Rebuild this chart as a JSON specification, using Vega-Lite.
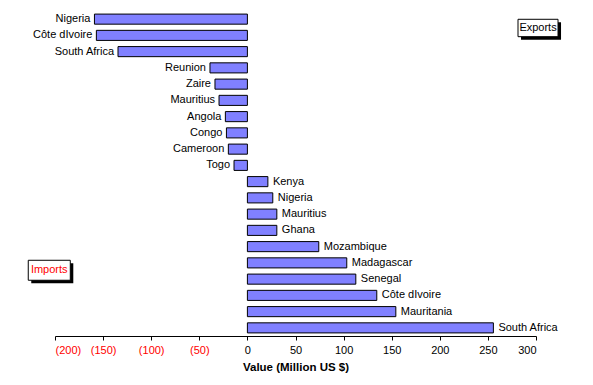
{
  "$schema": "https://vega.github.io/schema/vega-lite/v6.json",
  "width": 481,
  "height": 325,
  "autosize": {"type": "none"},
  "padding": {"left": 55, "top": 11, "right": 57, "bottom": 49},
  "background": "white",
  "config": {
    "view": {"stroke": null},
    "font": "Liberation Sans",
    "text": {"font": "Liberation Sans", "fontSize": 11}
  },
  "datasets": {
    "bars": [
      {"id": 1, "country": "Nigeria", "value": -159},
      {"id": 2, "country": "Côte dIvoire", "value": -157},
      {"id": 3, "country": "South Africa", "value": -134.5},
      {"id": 4, "country": "Reunion", "value": -38.9},
      {"id": 5, "country": "Zaire", "value": -33.7},
      {"id": 6, "country": "Mauritius", "value": -29.5},
      {"id": 7, "country": "Angola", "value": -22.9},
      {"id": 8, "country": "Congo", "value": -21.8},
      {"id": 9, "country": "Cameroon", "value": -19.8},
      {"id": 10, "country": "Togo", "value": -13.9},
      {"id": 11, "country": "Kenya", "value": 21.3},
      {"id": 12, "country": "Nigeria", "value": 26.4},
      {"id": 13, "country": "Mauritius", "value": 30.6},
      {"id": 14, "country": "Ghana", "value": 30.6},
      {"id": 15, "country": "Mozambique", "value": 74.2},
      {"id": 16, "country": "Madagascar", "value": 103.3},
      {"id": 17, "country": "Senegal", "value": 112.7},
      {"id": 18, "country": "Côte dIvoire", "value": 134.5},
      {"id": 19, "country": "Mauritania", "value": 154.3},
      {"id": 20, "country": "South Africa", "value": 255.7}
    ],
    "boxes": [
      {"label": "Exports", "x1": 281.3, "x2": 322.9, "y1": 0.51, "y2": 1.58, "xm": 302.1, "ym": 1.05},
      {"label": "Imports", "x1": -227.8, "x2": -184.1, "y1": 15.34, "y2": 16.57, "xm": -206, "ym": 15.96}
    ]
  },
  "layer": [
    {
      "data": {"name": "bars"},
      "encoding": {
        "y": {
          "field": "id",
          "type": "ordinal",
          "sort": "ascending",
          "axis": null,
          "scale": {"paddingInner": 0.38, "paddingOuter": 0.19}
        }
      },
      "layer": [
        {
          "mark": {"type": "bar", "fill": "#8080FF", "stroke": "black", "strokeWidth": 1, "cornerRadius": 0, "clip": false},
          "encoding": {
            "x": {
              "field": "value",
              "type": "quantitative",
              "scale": {"domain": [-200, 300], "nice": false, "zero": false},
              "axis": {
                "values": [-200, -150, -100, -50, 0, 50, 100, 150, 200, 250, 300],
                "grid": false,
                "domainColor": "black",
                "tickColor": "black",
                "tickSize": 4,
                "labelPadding": 4,
                "labelFont": "Liberation Sans",
                "labelFontSize": 11,
                "labelExpr": "datum.value < 0 ? '(' + (-datum.value) + ')' : datum.label",
                "labelColor": {"condition": {"test": "datum.value < 0", "value": "red"}, "value": "black"},
                "title": "Value (Million US $)",
                "titleFont": "Liberation Sans",
                "titleFontSize": 11.5,
                "titleFontWeight": "bold",
                "titleColor": "black",
                "titlePadding": 6
              }
            },
            "x2": {"datum": 0}
          }
        },
        {
          "transform": [{"filter": "datum.value < 0"}],
          "mark": {"type": "text", "align": "right", "baseline": "middle", "dx": -4, "color": "black"},
          "encoding": {
            "x": {"field": "value", "type": "quantitative"},
            "text": {"field": "country"}
          }
        },
        {
          "transform": [{"filter": "datum.value > 0"}],
          "mark": {"type": "text", "align": "left", "baseline": "middle", "dx": 5, "color": "black"},
          "encoding": {
            "x": {"field": "value", "type": "quantitative"},
            "text": {"field": "country"}
          }
        }
      ]
    },
    {
      "data": {"name": "boxes"},
      "layer": [
        {
          "mark": {"type": "rect", "fill": "black", "xOffset": 3, "x2Offset": 3, "yOffset": 3, "y2Offset": 3, "clip": false},
          "encoding": {
            "x": {"field": "x1", "type": "quantitative"},
            "x2": {"field": "x2"},
            "y": {"field": "y1", "type": "quantitative", "scale": {"domain": [0, 20], "reverse": true, "nice": false, "zero": false}, "axis": null},
            "y2": {"field": "y2"}
          }
        },
        {
          "mark": {"type": "rect", "fill": "white", "stroke": "black", "strokeWidth": 1, "clip": false},
          "encoding": {
            "x": {"field": "x1", "type": "quantitative"},
            "x2": {"field": "x2"},
            "y": {"field": "y1", "type": "quantitative", "scale": {"domain": [0, 20], "reverse": true, "nice": false, "zero": false}, "axis": null},
            "y2": {"field": "y2"}
          }
        },
        {
          "mark": {"type": "text", "align": "center", "baseline": "middle"},
          "encoding": {
            "x": {"field": "xm", "type": "quantitative"},
            "y": {"field": "ym", "type": "quantitative", "scale": {"domain": [0, 20], "reverse": true, "nice": false, "zero": false}, "axis": null},
            "text": {"field": "label"},
            "color": {"condition": {"test": "datum.label == 'Imports'", "value": "red"}, "value": "black"}
          }
        }
      ]
    }
  ],
  "resolve": {"scale": {"y": "independent"}}
}
